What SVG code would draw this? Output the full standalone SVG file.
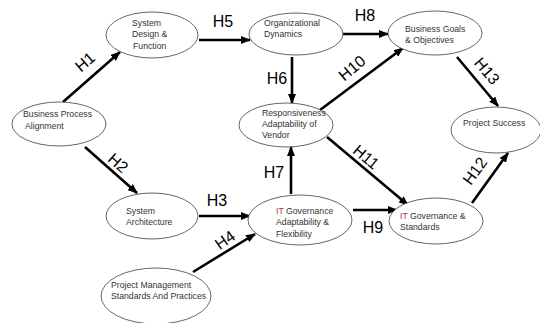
<svg xmlns="http://www.w3.org/2000/svg" width="540" height="323" viewBox="0 0 540 323">
<defs>
<marker id="ah" markerUnits="userSpaceOnUse" markerWidth="10" markerHeight="8" refX="9" refY="4" orient="auto">
<path d="M0,0 L10,4 L0,8 z" fill="#000"/>
</marker>
<style>
.n ellipse{fill:#fff;stroke:#555;stroke-width:0.9}
.n text{font-family:"Liberation Sans",Arial,sans-serif;font-size:8.7px;fill:#333}
.r{fill:#a33 !important}
#edges line{stroke:#000;stroke-width:2.6;marker-end:url(#ah)}
#labels text{font-family:"Liberation Sans",Arial,sans-serif;font-size:16px;fill:#000;text-anchor:middle;dominant-baseline:central}
</style>
</defs>
<rect width="540" height="323" fill="#fff"/>
<g id="edges">
<line x1="63" y1="102" x2="120" y2="52"/>
<line x1="85" y1="147" x2="137" y2="193"/>
<line x1="199" y1="216" x2="250" y2="216"/>
<line x1="193" y1="272" x2="255" y2="234"/>
<line x1="199" y1="40" x2="250" y2="40"/>
<line x1="292" y1="57" x2="292" y2="103"/>
<line x1="291" y1="194" x2="291" y2="147"/>
<line x1="338" y1="34" x2="388" y2="34"/>
<line x1="353" y1="210" x2="397" y2="210"/>
<line x1="320" y1="110" x2="403" y2="48"/>
<line x1="327" y1="137" x2="408" y2="205"/>
<line x1="472" y1="203" x2="508" y2="153"/>
<line x1="457" y1="57" x2="498" y2="106"/>
</g>
<g id="labels">
<text transform="translate(85,62) rotate(-41)">H1</text>
<text transform="translate(118,163) rotate(41)">H2</text>
<text x="217" y="200">H3</text>
<text transform="translate(225,240) rotate(-35)">H4</text>
<text x="223" y="21">H5</text>
<text x="277" y="78">H6</text>
<text x="274" y="172">H7</text>
<text x="365" y="15">H8</text>
<text x="373" y="227">H9</text>
<text transform="translate(352,68) rotate(-40)">H10</text>
<text transform="translate(366,157) rotate(40)">H11</text>
<text transform="translate(475,171) rotate(-54)">H12</text>
<text transform="translate(487,71) rotate(50)">H13</text>
</g>
<g id="bpa" class="n"><ellipse cx="59" cy="124" rx="47" ry="22"/>
<text x="23" y="117">Business Process</text><text x="25" y="129">Alignment</text></g>
<g id="sdf" class="n"><ellipse cx="152" cy="35" rx="46" ry="23"/>
<text x="132" y="26">System</text><text x="132" y="37">Design &amp;</text><text x="133" y="49">Function</text></g>
<g id="od" class="n"><ellipse cx="296" cy="34" rx="47" ry="21"/>
<text x="264" y="26">Organizational</text><text x="264" y="37">Dynamics</text></g>
<g id="bgo" class="n"><ellipse cx="435" cy="33" rx="47" ry="22"/>
<text x="405" y="32">Business Goals</text><text x="405" y="43">&amp; Objectives</text></g>
<g id="ps" class="n"><ellipse cx="496" cy="130" rx="45" ry="23"/>
<text x="463" y="126">Project Success</text></g>
<g id="rav" class="n"><ellipse cx="286" cy="125" rx="47" ry="22"/>
<text x="262" y="116">Responsiveness</text><text x="262" y="127">Adaptability of</text><text x="262" y="138">Vendor</text></g>
<g id="sa" class="n"><ellipse cx="152" cy="216" rx="46" ry="23"/>
<text x="126" y="214">System</text><text x="126" y="225">Architecture</text></g>
<g id="itga" class="n"><ellipse cx="300" cy="220" rx="52" ry="25"/>
<text x="276" y="214"><tspan class="r">IT</tspan>  Governance</text><text x="276" y="225">Adaptability &amp;</text><text x="276" y="237">Flexibility</text></g>
<g id="itgs" class="n"><ellipse cx="436" cy="221" rx="47" ry="23"/>
<text x="400" y="219"><tspan class="r">IT</tspan> Governance &amp;</text><text x="400" y="230">Standards</text></g>
<g id="pm" class="n"><ellipse cx="156" cy="296" rx="55" ry="28"/>
<text x="111" y="288">Project Management</text><text x="111" y="299">Standards And Practices</text></g>
</svg>
